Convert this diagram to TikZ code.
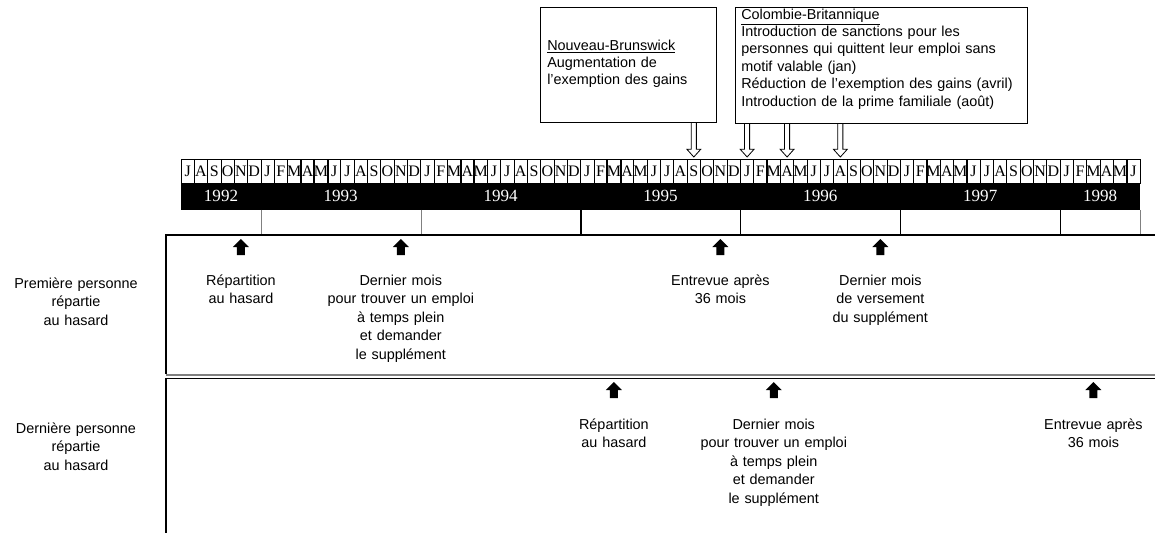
\documentclass[tikz,border=0pt]{standalone}
\usepackage{fontspec}
\setmainfont{Liberation Serif}
\setsansfont{Liberation Sans}
\usetikzlibrary{calc}
\newcommand\monthletter[1]{\ifcase#1 J\or F\or M\or A\or M\or J\or J\or A\or S\or O\or N\or D\fi}
\newcommand\hollowarrow[2]{%
  \draw[line width=0.6pt,fill=white] let \p1=(#2.north), \p2=(#1.south) in
    (\x1-1.9pt,\y2) -- (\x1-1.9pt,\y1+7pt) -- (\x1-5.2pt,\y1+7pt) -- (\x1,\y1+1.2pt)
    -- (\x1+5.2pt,\y1+7pt) -- (\x1+1.9pt,\y1+7pt) -- (\x1+1.9pt,\y2);}
\begin{document}
\begin{tikzpicture}[x=0.75pt,y=-0.75pt,
  cell/.style={draw,line width=0.6pt,inner sep=0pt,minimum width=9.99pt,minimum height=18pt,
    text height=7.9pt,text depth=0pt,font=\fontsize{12}{12}\selectfont},
  year/.style={text=white,inner sep=0pt,font=\fontsize{12.8}{12.8}\selectfont},
  lab/.style={font=\sffamily\fontsize{10.8}{13.9}\selectfont,align=center,text width=125pt,inner sep=0pt,anchor=base},
  box/.style={draw,line width=0.8pt,anchor=north west,inner sep=0pt},
  boxtext/.style={font=\sffamily\fontsize{10.8}{13.1}\selectfont,align=left,text width=215pt,inner sep=0pt,anchor=base west},
  tick/.style={line width=0.8pt},
  uparrow/.pic={\fill (0,0) -- (8,8) -- (4,8) -- (4,16) -- (-4,16) -- (-4,8) -- (-8,8) -- cycle;},
  ]
\useasboundingbox (0,0) rectangle (1155,533);
% month strip
\foreach \i in {0,...,71}{
  \pgfmathtruncatemacro\m{mod(\i+6,12)}
  \node[cell] (m\i) at ({181+13.32*(\i+0.5)},171) {\monthletter{\m}};
}
\node[fill=black,inner sep=0pt,minimum width=719.25pt,minimum height=19.5pt,anchor=north west] (band) at (m0.south west) {};
\foreach \yr/\x in {1992/221,1993/340.7,1994/500.6,1995/660.5,1996/820.3,1997/980.2,1998/1100.1}
  \node[year] (y\yr) at (\x,196) {\yr};
\foreach \c/\col in {5/gray,17/gray,29/black,41/black,53/black,65/black,71/gray}
  \draw[tick,\col] (m\c.south east |- band.south) -- ++(0,24);
% panels
\draw[line width=0.9pt] (1155,235) -- (166,235) -- (166,374);
\draw[gray,line width=1.6pt] (166,374.7) -- (1155,374.7);
\draw[line width=0.9pt] (1155,378.5) -- (166,378.5) -- (166,533);
\coordinate (r1) at (0,239);
\coordinate (r2) at (0,382);
\coordinate (t1) at (0,285);
\coordinate (t2) at (0,429);
% row 1
\node[lab] (p1) at (76,288) {Première personne\\répartie\\au hasard};
\pic at (m4 |- r1) {uparrow};
\node[lab] (a1) at (m4 |- t1) {Répartition\\au hasard};
\pic at (m16 |- r1) {uparrow};
\node[lab] (a2) at (m16 |- t1) {Dernier mois\\pour trouver un emploi\\à temps plein\\et demander\\le supplément};
\pic at (m40 |- r1) {uparrow};
\node[lab] (a3) at (m40 |- t1) {Entrevue après\\36 mois};
\pic at (m52 |- r1) {uparrow};
\node[lab] (a4) at (m52 |- t1) {Dernier mois\\de versement\\du supplément};
% row 2
\node[lab] (p2) at (76,433) {Dernière personne\\répartie\\au hasard};
\pic at (m32 |- r2) {uparrow};
\node[lab] (b1) at (m32 |- t2) {Répartition\\au hasard};
\pic at (m44 |- r2) {uparrow};
\node[lab] (b2) at (m44 |- t2) {Dernier mois\\pour trouver un emploi\\à temps plein\\et demander\\le supplément};
\pic at (m68 |- r2) {uparrow};
\node[lab] (b3) at (m68 |- t2) {Entrevue après\\36 mois};
% callouts
\node[box,minimum width=132pt,minimum height=86.25pt] (nb) at (540,7) {};
\node[boxtext] (nbt) at (547,50) {\underline{Nouveau-Brunswick}\\Augmentation de\\l’exemption des gains};
\node[box,minimum width=219pt,minimum height=87pt] (cb) at (735,7) {};
\node[boxtext] (cbt) at (741,19) {\underline{Colombie-Britannique}\\Introduction de sanctions pour les\\personnes qui quittent leur emploi sans\\motif valable (jan)\\Réduction de l’exemption des gains (avril)\\Introduction de la prime familiale (août)};
\hollowarrow{nb}{m38}
\hollowarrow{cb}{m42}
\hollowarrow{cb}{m45}
\hollowarrow{cb}{m49}
\end{tikzpicture}
\end{document}
